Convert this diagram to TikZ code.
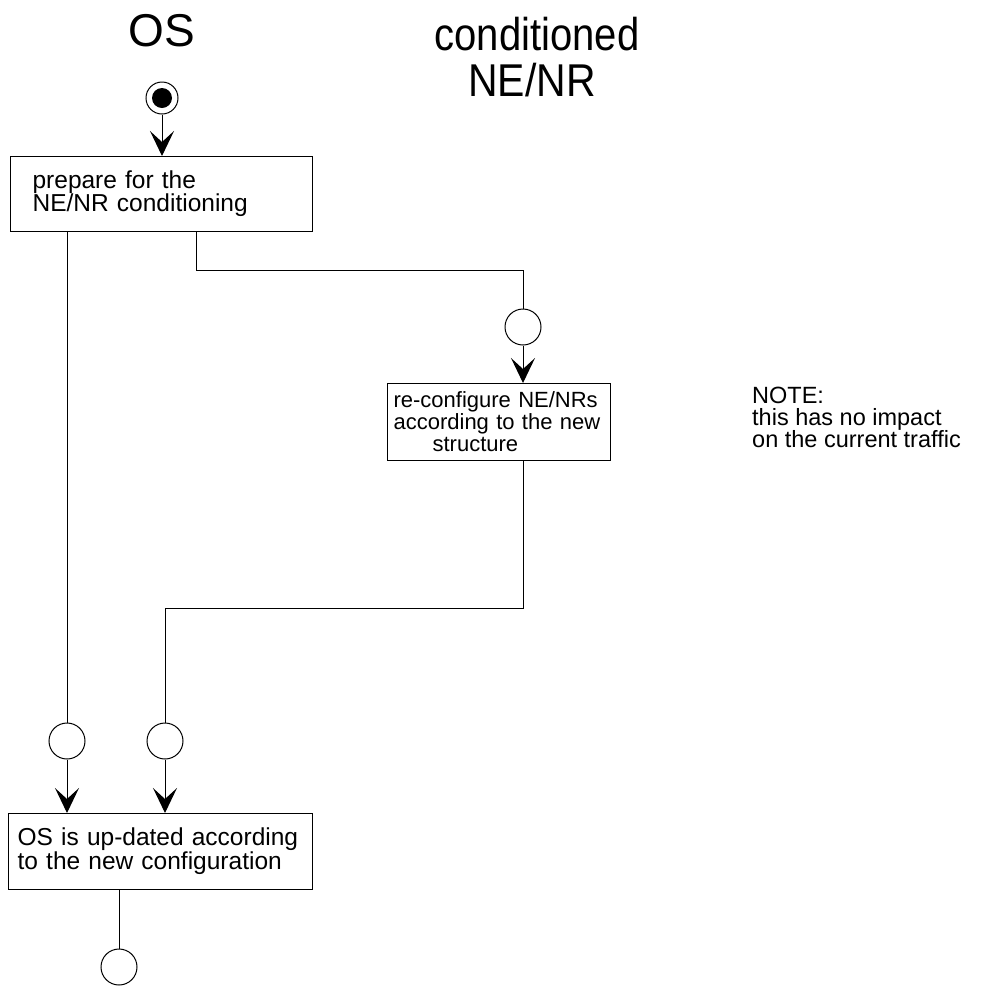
\documentclass[tikz,border=0pt]{standalone}
\usepackage{fontspec}
\setmainfont{Liberation Sans}
\usetikzlibrary{arrows.meta}
\begin{document}
\begin{tikzpicture}[x=1pt,y=-1pt,
  every node/.style={font=\fontsize{24.5}{23}\selectfont},
  box/.style={draw, line width=1.2pt, rectangle, anchor=north west, align=left,
    inner ysep=0pt},
  state/.style={draw, circle, line width=1pt, minimum size=36pt, inner sep=0pt},
  flow/.style={line width=1pt},
  arr/.style={flow, -{Stealth[length=25pt,width=24pt,inset=11pt]}},
  title/.style={font=\fontsize{46}{46}\selectfont, anchor=base, inner sep=0pt}]
\useasboundingbox (0,0) rectangle (990,986);

% swimlane headings
\node[title] (hos) at (162,46) {OS};
\node[title] (hne1) at (537,50) {\scalebox{0.87}[1]{conditioned}};
\node[title] (hne2) at (532,96) {\scalebox{0.89}[1]{NE/NR}};

% initial state
\node[state, minimum size=32pt] (start) at (162,98) {};
\node[circle, fill, minimum size=20pt, inner sep=0pt] (startdot) at (start) {};

% activities
\node[box, minimum width=302pt, minimum height=75pt, inner xsep=22pt,
  text width=258pt] (b1) at (10,156) {prepare for the\\NE/NR conditioning};
\node[box, minimum width=223pt, minimum height=77pt, inner xsep=6pt,
  text width=211pt, font=\fontsize{22}{22}\selectfont] (b2) at (387,383)
  {re-configure NE/NRs\\according to the new\\\hspace*{39pt}structure};
\node[box, minimum width=304pt, minimum height=76pt, inner xsep=9pt,
  text width=286pt, font=\fontsize{24.5}{24}\selectfont] (b3) at (8,813)
  {OS is up-dated according\\to the new configuration};

% note
\node[anchor=north west, align=left, inner sep=0pt,
  font=\fontsize{23.5}{22}\selectfont] (note) at (752,387)
  {NOTE:\\this has no impact\\on the current traffic};

% synchronisation states
\node[state] (c2) at (523,327) {};
\node[state] (c3) at (67,741) {};
\node[state] (c4) at (165,741) {};
\node[state] (c6) at (119,967) {};

% flows
\draw[arr] (start.south) -- (start.south |- b1.north);
\draw[flow] ([xshift=35pt]b1.south) -- ++(0,38) -| (c2.north);
\draw[arr] (c2.south) -- (c2.south |- b2.north);
\draw[flow] (c3.north |- b1.south) -- (c3.north);
\draw[flow] (b2.south -| c2) -- ++(0,147) -| (c4.north);
\draw[arr] (c3.south) -- (c3.south |- b3.north);
\draw[arr] (c4.south) -- (c4.south |- b3.north);
\draw[flow] (b3.south -| c6) -- (c6.north);
\end{tikzpicture}
\end{document}
